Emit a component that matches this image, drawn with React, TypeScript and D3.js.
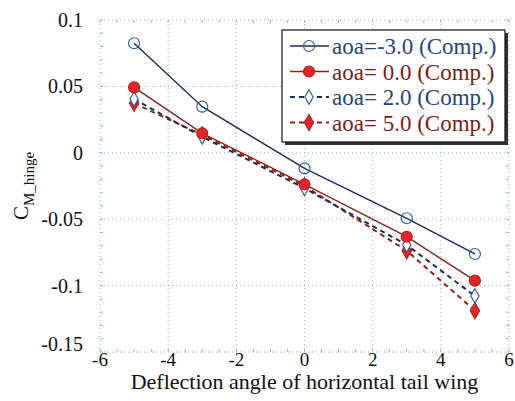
import React, { useEffect, useRef } from 'react';
import * as d3 from 'd3';

const W = 515;
const H = 401;
const M = { top: 20, right: 6, bottom: 49, left: 100 };

const deflection = [-5, -3, 0, 3, 5];
const aoaM3 = [0.0825, 0.0347, -0.0117, -0.0493, -0.0762];
const aoa0 = [0.0493, 0.0147, -0.0237, -0.0632, -0.0963];
const aoa2 = [0.0405, 0.012, -0.0267, -0.0694, -0.1078];
const aoa5 = [0.0373, 0.0135, -0.025, -0.0737, -0.1189];

const xTicks = [-6, -4, -2, 0, 2, 4, 6];
const yTicks = [0.1, 0.05, 0, -0.05, -0.1, -0.15];
const yTickLabels = ['0.1', '0.05', '0', '-0.05', '-0.1', '-0.15'];

const BLUE = '#2f5fa8';
const NAVY = '#1e2d55';
const RED = '#e0262a';
const DRED = '#8a2418';

const series = [
  { label: 'aoa=-3.0 (Comp.)', values: aoaM3, line: NAVY, dash: null, marker: 'circle', fill: 'none', stroke: BLUE, text: '#2a4478' },
  { label: 'aoa= 0.0 (Comp.)', values: aoa0, line: DRED, dash: null, marker: 'circle', fill: RED, stroke: '#b8201e', text: '#7a1e18' },
  { label: 'aoa= 2.0 (Comp.)', values: aoa2, line: NAVY, dash: '5,4', marker: 'diamond', fill: 'none', stroke: BLUE, text: '#2a4478' },
  { label: 'aoa= 5.0 (Comp.)', values: aoa5, line: DRED, dash: '5,4', marker: 'diamond', fill: RED, stroke: '#b8201e', text: '#7a1e18' },
];

const FONT = 'Liberation Serif';

export default function App() {
  const ref = useRef<SVGSVGElement>(null);

  useEffect(() => {
    const svg = d3.select(ref.current);
    svg.selectAll('*').remove();

    const pw = W - M.left - M.right;
    const ph = H - M.top - M.bottom;
    const x = d3.scaleLinear().domain([-6, 6]).range([M.left, M.left + pw]);
    const y = d3.scaleLinear().domain([-0.15, 0.1]).range([M.top + ph, M.top]);

    svg.append('rect').attr('width', W).attr('height', H).attr('fill', '#fff');

    // grid (dotted, light blue)
    const grid = svg.append('g').attr('stroke', '#8fb6dc').attr('stroke-width', 1).attr('stroke-dasharray', '1,3');
    xTicks.forEach((t) => {
      grid.append('line').attr('x1', x(t)).attr('x2', x(t)).attr('y1', y(0.1)).attr('y2', y(-0.15));
    });
    yTicks.forEach((t) => {
      grid.append('line').attr('x1', x(-6)).attr('x2', x(6)).attr('y1', y(t)).attr('y2', y(t));
    });

    // minor ticks on frame
    const minor = svg.append('g').attr('stroke', '#8fb6dc').attr('stroke-width', 1);
    d3.range(-6, 6.01, 0.5).forEach((t) => {
      minor.append('line').attr('x1', x(t)).attr('x2', x(t)).attr('y1', y(-0.15)).attr('y2', y(-0.15) - 3);
      minor.append('line').attr('x1', x(t)).attr('x2', x(t)).attr('y1', y(0.1)).attr('y2', y(0.1) + 3);
    });
    d3.range(-0.15, 0.1001, 0.01).forEach((t) => {
      minor.append('line').attr('x1', x(-6)).attr('x2', x(-6) + 3).attr('y1', y(t)).attr('y2', y(t));
      minor.append('line').attr('x1', x(6)).attr('x2', x(6) - 3).attr('y1', y(t)).attr('y2', y(t));
    });

    // tick labels
    const lab = svg.append('g').attr('font-family', FONT).attr('fill', '#111');
    xTicks.forEach((t) => {
      lab.append('text').attr('x', x(t)).attr('y', y(-0.15) + 14).attr('font-size', 19)
        .attr('text-anchor', 'middle').text(String(t));
    });
    yTicks.forEach((t, i) => {
      lab.append('text').attr('x', x(-6) - 17).attr('y', y(t) + (i === yTicks.length - 1 ? -1 : 7))
        .attr('font-size', 20).attr('text-anchor', 'end').text(yTickLabels[i]);
    });

    lab.append('text').attr('x', x(0)).attr('y', 389).attr('font-size', 22)
      .attr('text-anchor', 'middle').text('Deflection angle of horizontal tail wing');

    const yl = lab.append('text').attr('font-size', 21)
      .attr('transform', `translate(28,${y(-0.025)}) rotate(-90)`).attr('text-anchor', 'middle');
    yl.append('tspan').text('C');
    yl.append('tspan').attr('font-size', 15).attr('dy', 6).text('M_hinge');

    // series
    const line = d3.line<number>().x((_, i) => x(deflection[i])).y((d) => y(d));
    const diamond = d3.symbol().type(d3.symbolDiamond);

    const drawMarker = (g: any, s: any, cx: number, cy: number) => {
      if (s.marker === 'circle') {
        g.append('circle').attr('cx', cx).attr('cy', cy).attr('r', 5.5)
          .attr('fill', s.fill).attr('stroke', s.stroke).attr('stroke-width', 1.2);
      } else {
        g.append('path').attr('d', diamond.size(s.fill === 'none' ? 60 : 75)())
          .attr('transform', `translate(${cx},${cy})`)
          .attr('fill', s.fill === 'none' ? '#fff' : s.fill).attr('stroke', s.stroke).attr('stroke-width', 1.2);
      }
    };

    series.slice().reverse().forEach((s) => {
      const g = svg.append('g');
      g.append('path').attr('d', line(s.values)).attr('fill', 'none')
        .attr('stroke', s.line).attr('stroke-width', s.dash ? 2 : 1.4)
        .attr('stroke-dasharray', s.dash);
      s.values.forEach((v, i) => drawMarker(g, s, x(deflection[i]), y(v)));
    });

    // legend with drop shadow
    const lx = 282, ly = 30, lw = 223, lh = 112;
    svg.append('rect').attr('x', lx + 3).attr('y', ly + 3).attr('width', lw).attr('height', lh).attr('fill', '#333');
    svg.append('rect').attr('x', lx).attr('y', ly).attr('width', lw).attr('height', lh)
      .attr('fill', '#fff').attr('stroke', '#111').attr('stroke-width', 1.2);
    series.forEach((s, i) => {
      const cy = ly + 16 + i * 25.5;
      const g = svg.append('g');
      g.append('line').attr('x1', lx + 8).attr('x2', lx + 47).attr('y1', cy).attr('y2', cy)
        .attr('stroke', s.line).attr('stroke-width', s.dash ? 2 : 1.4).attr('stroke-dasharray', s.dash);
      drawMarker(g, s, lx + 27, cy);
      g.append('text').attr('x', lx + 50).attr('y', cy + 8).attr('font-family', FONT)
        .attr('font-size', 23).attr('fill', s.text).text(s.label);
    });
  }, []);

  return (
    <div style={{ position: 'absolute', left: 0, top: 0 }}>
      <svg ref={ref} width={W} height={H} />
    </div>
  );
}
